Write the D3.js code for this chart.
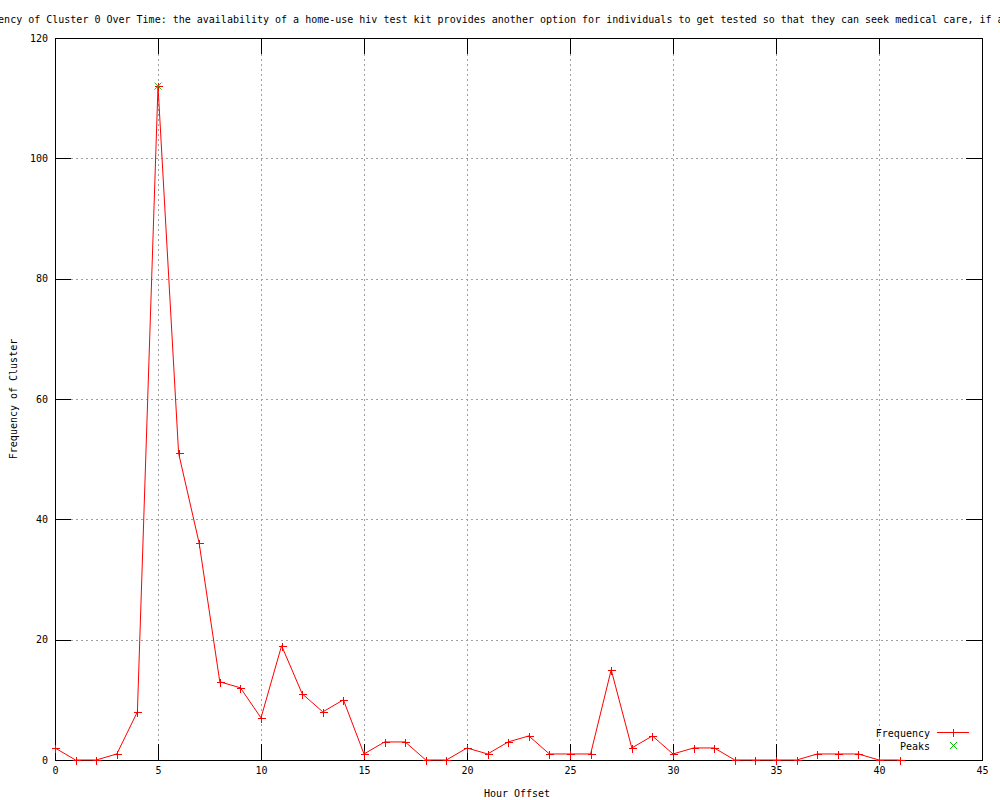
<!DOCTYPE html>
<html lang="en">
<head>
    <meta charset="UTF-8">
    <title>Frequency of Cluster 0 Over Time</title>
    <script src="https://d3js.org/d3.v7.min.js"></script>
    <style>
        body { margin: 0; background: #fff; }
        svg { display: block; }
        text { font-family: "DejaVu Sans Mono", "Liberation Mono", monospace; font-size: 10px; fill: #000; }
    </style>
</head>
<body>

<svg width="1000" height="800"></svg>

<script>

    // values
    var hours = [0, 1, 2, 3, 4, 5, 6, 7, 8, 9, 10, 11, 12, 13, 14, 15, 16, 17, 18, 19, 20,
                 21, 22, 23, 24, 25, 26, 27, 28, 29, 30, 31, 32, 33, 34, 35, 36, 37, 38, 39, 40, 41];
    var frequency = [2, 0, 0, 1, 8, 112, 51, 36, 13, 12, 7, 19, 11, 8, 10, 1, 3, 3, 0, 0, 2,
                     1, 3, 4, 1, 1, 1, 15, 2, 4, 1, 2, 2, 0, 0, 0, 0, 1, 1, 1, 0, 0];
    var peakHours = [5];
    var peakValues = [112];
    var xTicks = [0, 5, 10, 15, 20, 25, 30, 35, 40, 45];
    var yTicks = [0, 20, 40, 60, 80, 100, 120];

    var title = "Frequency of Cluster 0 Over Time: the availability of a home-use hiv test kit provides another option for individuals to get tested so that they can seek medical care, if appropriate.";

    var svg = d3.select("svg");
    // plot box (window.top is reserved, so use other names)
    var plotLeft = 55, plotRight = 982, plotTop = 38, plotBottom = 760;

    var x = d3.scaleLinear().domain([0, 45]).range([plotLeft, plotRight]);
    var y = d3.scaleLinear().domain([0, 120]).range([plotBottom, plotTop]);

    // grid
    var grid = svg.append("g")
        .attr("stroke", "#a0a0a0")
        .attr("stroke-dasharray", "2,3")
        .attr("shape-rendering", "crispEdges");
    grid.selectAll(".gx")
        .data(xTicks.slice(1, -1))
        .enter().append("line")
        .attr("x1", function (d) { return Math.round(x(d)) + 0.5; })
        .attr("x2", function (d) { return Math.round(x(d)) + 0.5; })
        .attr("y1", plotTop + 16)
        .attr("y2", plotBottom - 16);
    grid.selectAll(".gy")
        .data(yTicks.slice(1, -1))
        .enter().append("line")
        .attr("y1", function (d) { return Math.round(y(d)) + 0.5; })
        .attr("y2", function (d) { return Math.round(y(d)) + 0.5; })
        .attr("x1", plotLeft + 16)
        .attr("x2", plotRight - 16);

    // axes, ticks pointing inward like gnuplot
    function styleAxis(g) {
        g.select(".domain").remove();
        g.selectAll("line").attr("stroke", "#000").attr("shape-rendering", "crispEdges");
        g.selectAll("text").attr("font-family", null).attr("font-size", null);
    }

    svg.append("g")
        .attr("transform", "translate(0," + plotBottom + ")")
        .call(d3.axisBottom(x).tickValues(xTicks).tickSize(-16).tickPadding(7).tickFormat(d3.format("d")))
        .call(styleAxis);
    svg.append("g")
        .attr("transform", "translate(0," + plotTop + ")")
        .call(d3.axisTop(x).tickValues(xTicks).tickSize(-16).tickFormat(""))
        .call(styleAxis);
    svg.append("g")
        .attr("transform", "translate(" + plotLeft + ",0)")
        .call(d3.axisLeft(y).tickValues(yTicks).tickSize(-16).tickPadding(7).tickFormat(d3.format("d")))
        .call(styleAxis);
    svg.append("g")
        .attr("transform", "translate(" + plotRight + ",0)")
        .call(d3.axisRight(y).tickValues(yTicks).tickSize(-16).tickFormat(""))
        .call(styleAxis);

    // border
    svg.append("rect")
        .attr("x", plotLeft + 0.5).attr("y", plotTop + 0.5)
        .attr("width", plotRight - plotLeft).attr("height", plotBottom - plotTop)
        .attr("fill", "none").attr("stroke", "#000")
        .attr("shape-rendering", "crispEdges");

    // frequency line
    var line = d3.line()
        .x(function (d, i) { return x(hours[i]); })
        .y(function (d) { return y(d); });

    svg.append("path")
        .datum(frequency)
        .attr("d", line)
        .attr("fill", "none")
        .attr("stroke", "#ff0000")
        .attr("stroke-width", 1);

    function plus(cx, cy, s) {
        return "M" + (cx - s) + "," + cy + "H" + (cx + s) + "M" + cx + "," + (cy - s) + "V" + (cy + s);
    }
    function cross(cx, cy, s) {
        return "M" + (cx - s) + "," + (cy - s) + "L" + (cx + s) + "," + (cy + s) +
               "M" + (cx - s) + "," + (cy + s) + "L" + (cx + s) + "," + (cy - s);
    }

    svg.selectAll(".pt")
        .data(frequency)
        .enter().append("path")
        .attr("d", function (d, i) { return plus(Math.round(x(hours[i])) + 0.5, Math.round(y(d)) + 0.5, 4); })
        .attr("stroke", "#ff0000")
        .attr("shape-rendering", "crispEdges");

    svg.selectAll(".peak")
        .data(peakValues)
        .enter().append("path")
        .attr("d", function (d, i) { return cross(x(peakHours[i]), y(d), 3.5); })
        .attr("stroke", "#00c000");

    // legend
    var legend = svg.append("g");
    legend.append("text").attr("x", 930).attr("y", 737).attr("text-anchor", "end").text("Frequency");
    legend.append("line").attr("x1", 937).attr("x2", 969).attr("y1", 732.5).attr("y2", 732.5)
        .attr("stroke", "#ff0000");
    legend.append("path").attr("d", plus(953.5, 732.5, 4)).attr("stroke", "#ff0000")
        .attr("shape-rendering", "crispEdges");
    legend.append("text").attr("x", 930).attr("y", 750).attr("text-anchor", "end").text("Peaks");
    legend.append("path").attr("d", cross(953.5, 745.5, 3.5)).attr("stroke", "#00c000");

    // labels
    svg.append("text")
        .attr("x", -32).attr("y", 23)
        .text(title);
    svg.append("text")
        .attr("x", 517).attr("y", 797)
        .attr("text-anchor", "middle")
        .text("Hour Offset");
    svg.append("text")
        .attr("transform", "translate(17," + ((plotTop + plotBottom) / 2) + ") rotate(-90)")
        .attr("text-anchor", "middle")
        .text("Frequency of Cluster");

</script>
</body>
</html>
